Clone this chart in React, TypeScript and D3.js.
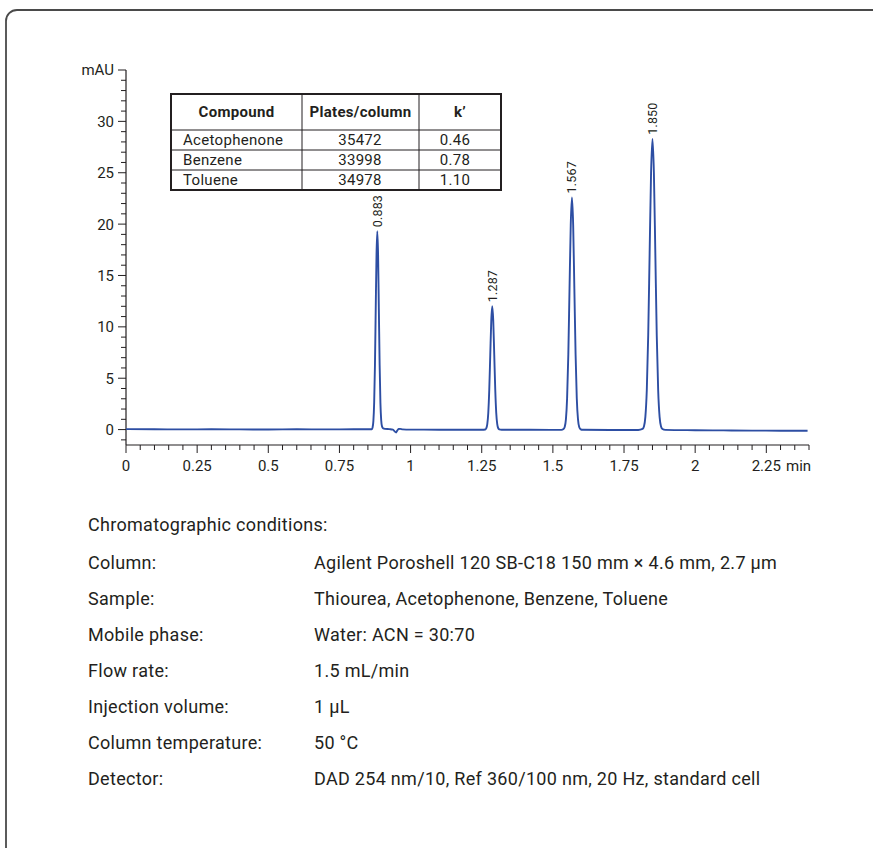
import React from 'react';
import * as d3 from 'd3';

// ---- Chromatogram trace (time in min, absorbance in mAU) ----
const traceTime = [
  0, 0.1, 0.2, 0.3, 0.4, 0.5, 0.6, 0.7, 0.8, 0.85,
  0.8638, 0.8665, 0.8693, 0.872, 0.8748, 0.8775, 0.8803, 0.883, 0.8858, 0.8885, 0.8913, 0.894, 0.8968, 0.8995,
  0.903, 0.91, 0.925, 0.938, 0.945, 0.949, 0.953, 0.958, 0.963, 0.972,
  1.0, 1.1, 1.2, 1.25,
  1.2625, 1.266, 1.2695, 1.273, 1.2765, 1.28, 1.2835, 1.287, 1.2905, 1.294, 1.2975, 1.301, 1.3045, 1.308, 1.3115, 1.32,
  1.4, 1.5, 1.53,
  1.5373, 1.5415, 1.5458, 1.55, 1.5543, 1.5585, 1.5628, 1.567, 1.5713, 1.5755, 1.5798, 1.584, 1.5883, 1.5925, 1.5968, 1.605,
  1.7, 1.8,
  1.815, 1.82, 1.825, 1.83, 1.835, 1.84, 1.845, 1.85, 1.855, 1.86, 1.865, 1.87, 1.875, 1.88, 1.885, 1.895,
  2.0, 2.1, 2.2, 2.3, 2.395,
];
const traceMAU = [
  0.05, 0.03, 0.02, 0.03, 0.02, 0.01, 0.03, 0.02, 0.03, 0.03,
  0.04, 0.21, 0.85, 2.61, 6.27, 11.71, 17.03, 19.3, 17.03, 11.71, 6.27, 2.61, 0.9, 0.32,
  0.14, 0.07, 0.04, 0.0, -0.2, -0.28, -0.1, 0.06, 0.07, 0.02,
  0.0, -0.01, -0.02, -0.02,
  0.01, 0.13, 0.53, 1.62, 3.9, 7.28, 10.59, 12.0, 10.59, 7.28, 3.9, 1.62, 0.53, 0.13, 0.03, -0.01,
  -0.02, -0.03, -0.03,
  0.05, 0.25, 0.99, 3.06, 7.34, 13.71, 19.94, 22.6, 19.94, 13.71, 7.34, 3.06, 0.99, 0.25, 0.05, -0.02,
  -0.04, -0.04,
  0.06, 0.31, 1.24, 3.83, 9.19, 17.16, 24.97, 28.3, 24.97, 17.16, 9.19, 3.83, 1.24, 0.31, 0.06, -0.03,
  -0.06, -0.08, -0.1, -0.11, -0.12,
];

// ---- Peak annotations ----
const peakTimes = [0.883, 1.287, 1.567, 1.85];
const peakHeights = [19.3, 12.0, 22.6, 28.3];
const peakLabels = ['0.883', '1.287', '1.567', '1.850'];

// ---- Axis ticks ----
const yTickValues = [0, 5, 10, 15, 20, 25, 30];
const yUnitLabel = 'mAU';
const xTickValues = [0, 0.25, 0.5, 0.75, 1, 1.25, 1.5, 1.75, 2, 2.25];
const xTickLabels = ['0', '0.25', '0.5', '0.75', '1', '1.25', '1.5', '1.75', '2', '2.25'];
const xUnitLabel = 'min';

// ---- Inset table ----
const tableHeaders = ['Compound', 'Plates/column', 'k\u2019'];
const compounds = ['Acetophenone', 'Benzene', 'Toluene'];
const platesPerColumn = ['35472', '33998', '34978'];
const kPrime = ['0.46', '0.78', '1.10'];

// ---- Conditions ----
const conditionsTitle = 'Chromatographic conditions:';
const conditionLabels = ['Column:', 'Sample:', 'Mobile phase:', 'Flow rate:', 'Injection volume:', 'Column temperature:', 'Detector:'];
const conditionValues = [
  'Agilent Poroshell 120 SB-C18 150 mm \u00d7 4.6 mm, 2.7 \u00b5m',
  'Thiourea, Acetophenone, Benzene, Toluene',
  'Water: ACN = 30:70',
  '1.5 mL/min',
  '1 \u00b5L',
  '50 \u00b0C',
  'DAD 254 nm/10, Ref 360/100 nm, 20 Hz, standard cell',
];

const FONT = "Roboto, 'Liberation Sans', sans-serif";
const INK = '#231f20';
const LINE = '#2d4ea3';

export default function App() {
  const W = 873, H = 848;
  const x = d3.scaleLinear().domain([0, 2.4]).range([126, 809]);
  const y = d3.scaleLinear().domain([-1.5, 35]).range([445, 70]);

  const pts: [number, number][] = traceTime.map((t, i) => [t, traceMAU[i]]);
  const line = d3.line<[number, number]>()
    .x(d => x(d[0]))
    .y(d => y(d[1]))
    .curve(d3.curveMonotoneX);

  const yMinor = d3.range(-1, 36);
  const xMinor = d3.range(0, 49).map(i => i * 0.05);

  // table geometry
  const tx = [171, 302, 419, 501];
  const ty = [94, 130, 150, 170, 190];

  return (
    <svg width={W} height={H} style={{ position: 'absolute', left: 0, top: 0, background: '#fff' }} fontFamily={FONT}>
      <rect x={6} y={10} width={W + 40} height={H + 40} rx={11} fill="none" stroke="#4a4a4a" strokeWidth={1.8} />

      {/* Y axis */}
      <line x1={126} x2={126} y1={y(35)} y2={445} stroke={INK} strokeWidth={1.2} />
      {yMinor.map(v => {
        const major = v % 5 === 0 && v >= 0;
        return <line key={'ym' + v} x1={126 - (major ? 8 : 5)} x2={126} y1={y(v)} y2={y(v)} stroke={INK} strokeWidth={1} />;
      })}
      {yTickValues.map(v => (
        <text key={'yl' + v} x={114} y={y(v)} dy="0.36em" textAnchor="end" fontSize={15} fill={INK}>{v}</text>
      ))}
      <text x={114} y={y(35)} dy="0.36em" textAnchor="end" fontSize={15} fill={INK}>{yUnitLabel}</text>

      {/* X axis */}
      <line x1={126} x2={x(2.4)} y1={445} y2={445} stroke={INK} strokeWidth={1.2} />
      {xMinor.map((v, i) => {
        const major = i % 5 === 0;
        return <line key={'xm' + i} x1={x(v)} x2={x(v)} y1={445} y2={445 + (major ? 8 : 5)} stroke={INK} strokeWidth={1} />;
      })}
      {xTickValues.map((v, i) => (
        <text key={'xl' + i} x={x(v)} y={471} textAnchor="middle" fontSize={15} fill={INK}>{xTickLabels[i]}</text>
      ))}
      <text x={786} y={471} fontSize={15} fill={INK}>{xUnitLabel}</text>

      {/* Trace */}
      <path d={line(pts) || ''} fill="none" stroke={LINE} strokeWidth={1.9} strokeLinejoin="round" />

      {/* Peak labels */}
      {peakTimes.map((t, i) => (
        <text key={'pk' + i} transform={`translate(${x(t) + 4.5},${y(peakHeights[i]) - 4}) rotate(-90)`} fontSize={12.5} letterSpacing={0.2} fill={INK}>{peakLabels[i]}</text>
      ))}

      {/* Table */}
      <g>
        <rect x={tx[0]} y={ty[0]} width={tx[3] - tx[0]} height={ty[4] - ty[0]} fill="#fff" stroke={INK} strokeWidth={2} />
        {[1, 2, 3].map(r => (
          <line key={'tr' + r} x1={tx[0]} x2={tx[3]} y1={ty[r]} y2={ty[r]} stroke={INK} strokeWidth={1} />
        ))}
        {[1, 2].map(c => (
          <line key={'tc' + c} x1={tx[c]} x2={tx[c]} y1={ty[0]} y2={ty[4]} stroke={INK} strokeWidth={1} />
        ))}
        {tableHeaders.map((h, c) => (
          <text key={'th' + c} x={(tx[c] + tx[c + 1]) / 2} y={(ty[0] + ty[1]) / 2} dy="0.36em" textAnchor="middle" fontSize={15} letterSpacing={0.3} fontWeight="bold" fill={INK}>{h}</text>
        ))}
        {compounds.map((name, r) => (
          <g key={'row' + r}>
            <text x={183} y={(ty[r + 1] + ty[r + 2]) / 2} dy="0.36em" fontSize={15} letterSpacing={0.3} fill={INK}>{name}</text>
            <text x={360} y={(ty[r + 1] + ty[r + 2]) / 2} dy="0.36em" textAnchor="middle" fontSize={15} letterSpacing={0.3} fill={INK}>{platesPerColumn[r]}</text>
            <text x={455} y={(ty[r + 1] + ty[r + 2]) / 2} dy="0.36em" textAnchor="middle" fontSize={15} letterSpacing={0.3} fill={INK}>{kPrime[r]}</text>
          </g>
        ))}
      </g>

      {/* Conditions */}
      <text x={88} y={531} fontSize={18} letterSpacing={0.3} fill={INK}>{conditionsTitle}</text>
      {conditionLabels.map((lab, i) => (
        <g key={'cond' + i}>
          <text x={88} y={569 + i * 36} fontSize={18} letterSpacing={0.3} fill={INK}>{lab}</text>
          <text x={314} y={569 + i * 36} fontSize={18} letterSpacing={0.3} fill={INK}>{conditionValues[i]}</text>
        </g>
      ))}
    </svg>
  );
}
